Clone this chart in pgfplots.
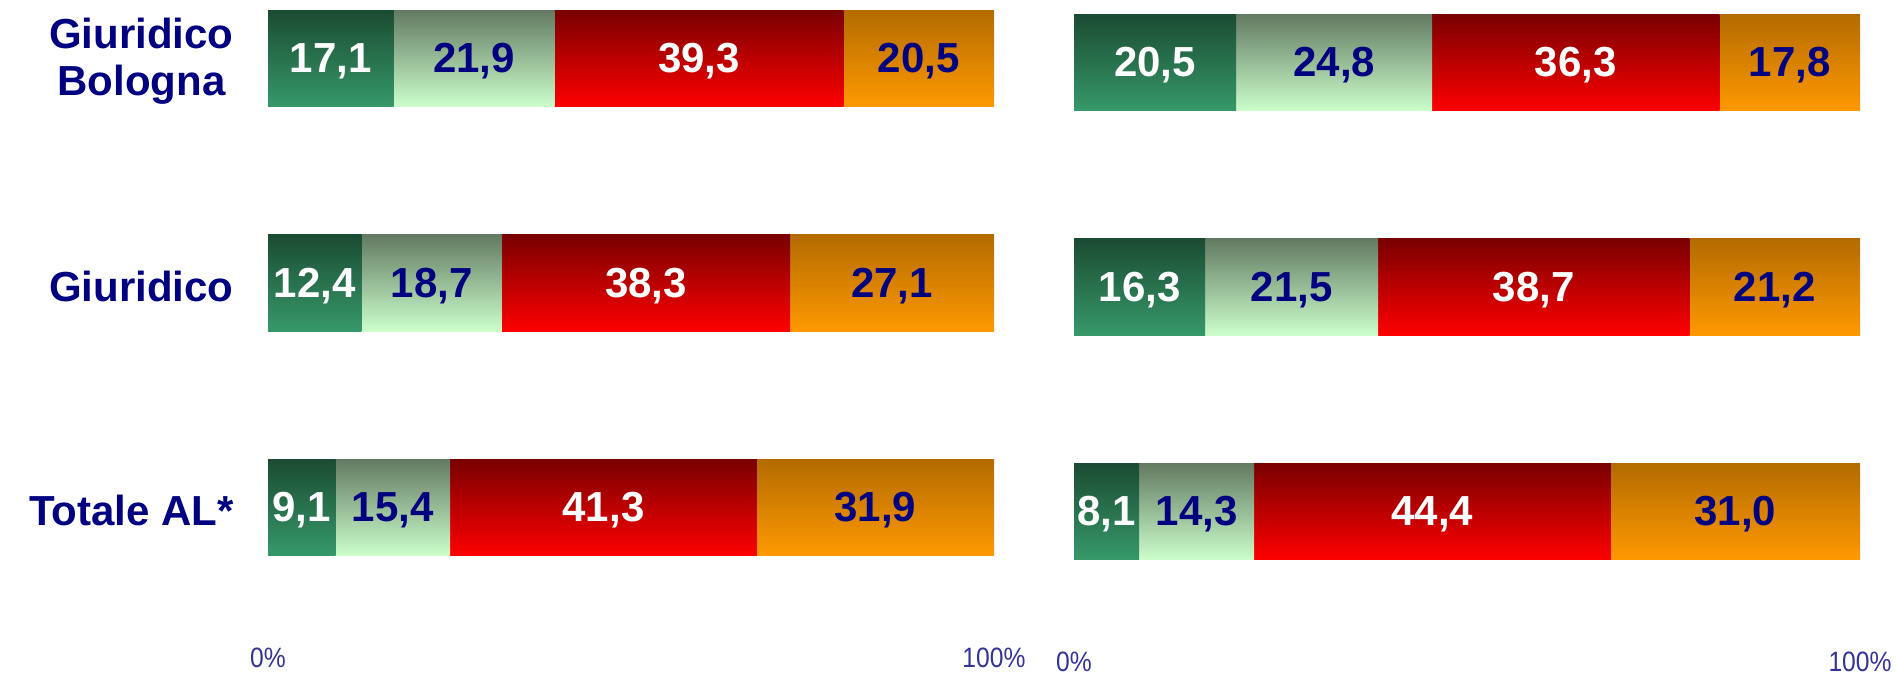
\documentclass[border=0pt]{standalone}
\usepackage{fontspec}
\setmainfont{Liberation Sans}
\newfontfamily\narrowfont[FakeStretch=0.88]{Liberation Sans}
\usepackage{pgfplots}
\usepackage{pgfplotstable}
\pgfplotsset{compat=1.18}

\definecolor{dgT}{HTML}{1B4B32}
\definecolor{dgB}{HTML}{36996A}
\definecolor{lgT}{HTML}{627A62}
\definecolor{lgB}{HTML}{CCFFCC}
\definecolor{rdT}{HTML}{790000}
\definecolor{rdB}{HTML}{FF0000}
\definecolor{orT}{HTML}{B36B00}
\definecolor{orB}{HTML}{FF9900}
\definecolor{navy}{HTML}{000080}
\definecolor{tickblue}{HTML}{333399}

% y: 0 = Totale AL*, 1 = Giuridico, 2 = Giuridico Bologna
\pgfplotstableread{
y a b c d
0 9.1 15.4 41.3 31.9
1 12.4 18.7 38.3 27.1
2 17.1 21.9 39.3 20.5
}\tabL
\pgfplotstableread{
y a b c d
0 8.1 14.3 44.4 31.0
1 16.3 21.5 38.7 21.2
2 20.5 24.8 36.3 17.8
}\tabR

% bars are scaled to 100%: ea..ed = where each segment ends
\newcommand\prep[1]{%
  \pgfplotstablecreatecol[expr={\thisrow{a}+\thisrow{b}+\thisrow{c}+\thisrow{d}}]{tot}{#1}
  \pgfplotstablecreatecol[expr={\thisrow{a}*100/\thisrow{tot}}]{ea}{#1}
  \pgfplotstablecreatecol[expr={(\thisrow{a}+\thisrow{b})*100/\thisrow{tot}}]{eb}{#1}
  \pgfplotstablecreatecol[expr={(\thisrow{a}+\thisrow{b}+\thisrow{c})*100/\thisrow{tot}}]{ec}{#1}
  \pgfplotstablecreatecol[expr={100}]{ed}{#1}}
\prep\tabL
\prep\tabR

\pgfplotsset{
  panel/.style={
    scale only axis, height=322.5bp,
    xmin=0, xmax=100, ymin=-0.6125, ymax=2.2606,
    bar width=0.432,
    axis line style={draw=none}, tick style={draw=none},
    xtick={0,100}, xticklabels={0\%,100\%},
    xticklabel style={font=\narrowfont\fontsize{14bp}{16bp}\selectfont, text=tickblue,
      anchor=center, yshift=-6.5bp},
  },
  seg/.style 2 args={xbar, bar shift=0pt, draw=none, top color=#1, bottom color=#2},
  lab/.style={only marks, mark=none, point meta=explicit,
    nodes near coords={\pgfmathprintnumber[fixed,fixed zerofill,precision=1,use comma,assume math mode=true]{\pgfplotspointmeta}},
    nodes near coords align={center},
    every node near coord/.append style={font=\fontsize{21bp}{23bp}\selectfont\bfseries,
      text=#1, anchor=center, yshift=-1.5bp}},
}

% one bar per row so that each bar gets its own shading; longest drawn first
\newcommand\bars[1]{%
  \pgfplotsinvokeforeach{0,1,2}{
    \addplot[seg={orT}{orB}, restrict y to domain=##1:##1] table[y=y, x=ed] {#1};
    \addplot[seg={rdT}{rdB}, restrict y to domain=##1:##1] table[y=y, x=ec] {#1};
    \addplot[seg={lgT}{lgB}, restrict y to domain=##1:##1] table[y=y, x=eb] {#1};
    \addplot[seg={dgT}{dgB}, restrict y to domain=##1:##1] table[y=y, x=ea] {#1};
  }
  \addplot[lab=white] table[y=y, x expr=\thisrow{ea}/2, meta=a] {#1};
  \addplot[lab=navy] table[y=y, x expr=(\thisrow{ea}+\thisrow{eb})/2, meta=b] {#1};
  \addplot[lab=white] table[y=y, x expr=(\thisrow{eb}+\thisrow{ec})/2, meta=c] {#1};
  \addplot[lab=navy] table[y=y, x expr=(\thisrow{ec}+\thisrow{ed})/2, meta=d] {#1};
}

\begin{document}
\begin{tikzpicture}
\begin{axis}[panel, at={(134bp,14.5bp)}, anchor=south west, width=363bp,
  ytick={0,1,2}, yticklabels={Totale AL*, Giuridico, {Giuridico\\Bologna}},
  yticklabel style={align=center, font=\fontsize{21bp}{23.5bp}\selectfont\bfseries,
    text=navy, inner sep=0pt, xshift=-17bp, yshift=-1.5bp}]
  \bars{\tabL}
\end{axis}
\begin{axis}[panel, at={(537bp,12.5bp)}, anchor=south west, width=393bp, ytick=\empty]
  \bars{\tabR}
\end{axis}
\pgfresetboundingbox
\useasboundingbox (0,0) rectangle (949.5bp,337bp);
\end{tikzpicture}
\end{document}
